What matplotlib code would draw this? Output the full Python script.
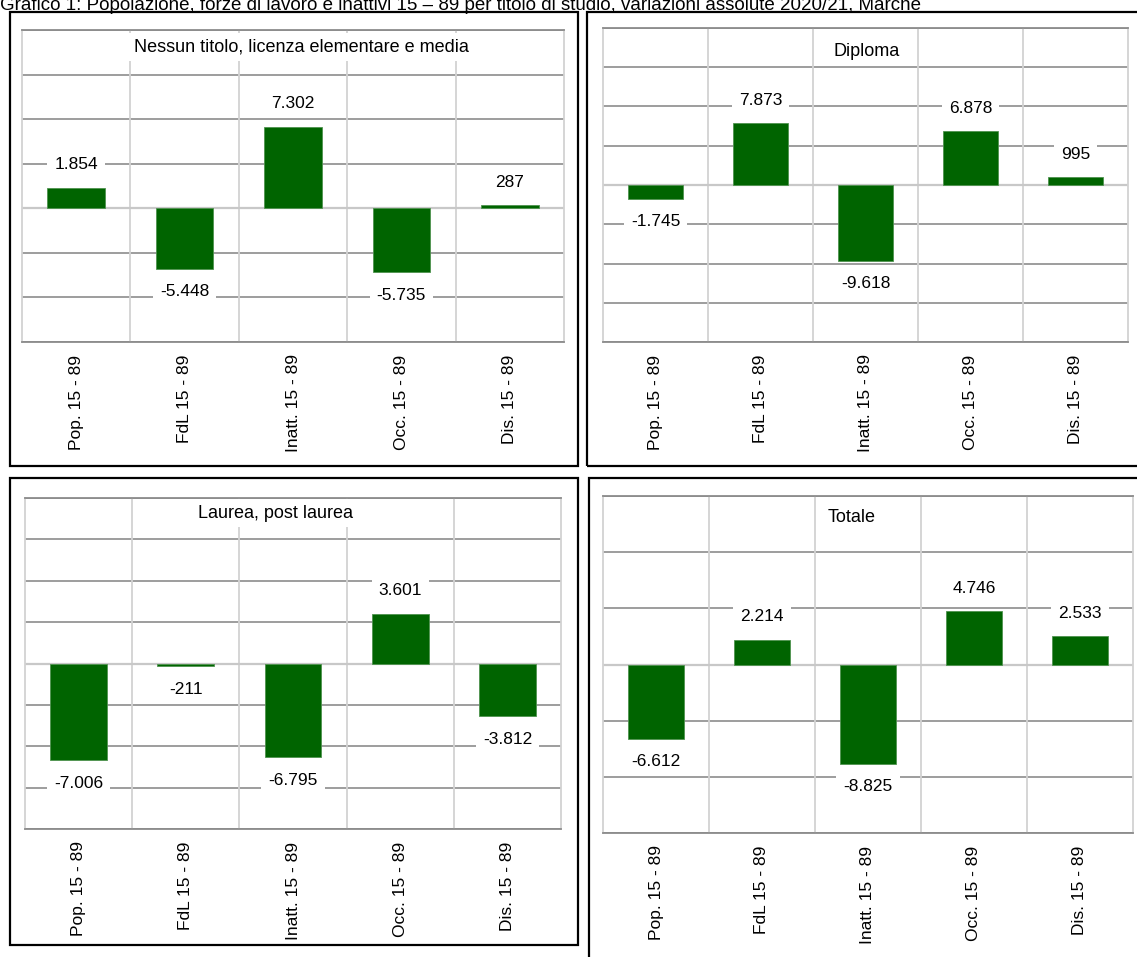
import numpy as np
import matplotlib.pyplot as plt
from matplotlib.patches import Rectangle

plt.rcParams['font.family'] = ['Liberation Sans', 'DejaVu Sans']

# --- dati: variazioni assolute 2020/21 ---
categorie = ['Pop. 15 - 89', 'FdL 15 - 89', 'Inatt. 15 - 89', 'Occ. 15 - 89', 'Dis. 15 - 89']

titoli = ['Nessun titolo, licenza elementare e media', 'Diploma',
          'Laurea, post laurea', 'Totale']

nessun_titolo = [1854, -5448, 7302, -5735, 287]
diploma = [-1745, 7873, -9618, 6878, 995]
laurea = [-7006, -211, -6795, 3601, -3812]
totale = [-6612, 2214, -8825, 4746, 2533]

serie = [nessun_titolo, diploma, laurea, totale]

# scala asse y: minimo, massimo, passo della griglia
scale_y = [(-12000, 16000, 4000), (-20000, 20000, 5000),
           (-12000, 12000, 3000), (-15000, 15000, 5000)]

titolo_grafico = ('Grafico 1: Popolazione, forze di lavoro e inattivi 15 \u2013 89 '
                  'per titolo di studio, variazioni assolute 2020/21, Marche')

# --- layout in pixel ---
W, H = 1137, 957
cornici = [(10, 12, 578, 466), (587, 12, 1150, 466),
           (10, 478, 578, 945), (589, 478, 1150, 970)]
aree = [(22, 30, 564, 342), (603, 28, 1128, 342),
        (25, 498, 561, 829), (603, 496, 1133, 833)]
# centro del titolo di ogni pannello rispetto all'area (dx, dy in pixel)
pos_titolo = [(8, 17), (1, 24), (-18, 15), (-16, 21)]

VERDE = '#006400'
GRIGIO_SCURO = '#8c8c8c'
GRIGIO_CHIARO = '#d2d2d2'


def rect_fig(x0, y0, x1, y1):
    return [x0 / W, 1 - y1 / H, (x1 - x0) / W, (y1 - y0) / H]


def formato(v):
    return f'{v:,}'.replace(',', '.')


fig = plt.figure(figsize=(W / 100, H / 100), dpi=100)

fig.text(0.0, 1 - 10 / H, titolo_grafico, ha='left', va='baseline', fontsize=13.5)

for k in range(4):
    x0, y0, x1, y1 = cornici[k]
    fig.add_artist(Rectangle((x0 / W, 1 - y1 / H), (x1 - x0) / W, (y1 - y0) / H,
                             transform=fig.transFigure, fill=False,
                             edgecolor='black', lw=1.6, zorder=0))

    ax = fig.add_axes(rect_fig(*aree[k]))
    vals = serie[k]
    lo, hi, passo = scale_y[k]
    x = np.arange(len(categorie))

    ax.bar(x, vals, width=0.53, color=VERDE, edgecolor='#4f934f', lw=0.6, zorder=3)

    ax.set_xlim(-0.5, len(categorie) - 0.5)
    ax.set_ylim(lo, hi)
    ax.set_yticks(np.arange(lo, hi + passo, passo))
    ax.yaxis.grid(True, color=GRIGIO_SCURO, lw=1.2)
    ax.set_axisbelow(True)
    for xv in x[:-1] + 0.5:
        ax.axvline(xv, color=GRIGIO_CHIARO, lw=1.3, zorder=1)
    ax.axhline(0, color='#c8c8c8', lw=1.6, zorder=2)

    for s in ax.spines.values():
        s.set_color(GRIGIO_CHIARO)
        s.set_linewidth(1.3)
    ax.spines['top'].set_color(GRIGIO_SCURO)
    ax.spines['bottom'].set_color(GRIGIO_SCURO)

    ax.set_xticks(x)
    ax.set_xticklabels(categorie, rotation=90, fontsize=12.5)
    ax.tick_params(axis='x', length=0, pad=9)
    ax.tick_params(axis='y', length=0, labelleft=False)

    # etichette dei valori
    for xi, v in zip(x, vals):
        segno = 1 if v >= 0 else -1
        ax.annotate(formato(v), xy=(xi, v), xytext=(0, segno * 23),
                    textcoords='offset pixels', ha='center', va='center',
                    fontsize=12.5, zorder=5,
                    bbox=dict(boxstyle='square,pad=0.4', fc='white', ec='none'))

    # titolo del pannello
    ax_x0, ax_y0, ax_x1, ax_y1 = aree[k]
    dx, dy = pos_titolo[k]
    ax.text(0.5 + dx / (ax_x1 - ax_x0), 1 - dy / (ax_y1 - ax_y0), titoli[k],
            transform=ax.transAxes, ha='center', va='center', fontsize=13,
            zorder=6, clip_on=False,
            bbox=dict(boxstyle='square,pad=0.3', fc='white', ec='none'))

fig.savefig('out.png', dpi=100)
